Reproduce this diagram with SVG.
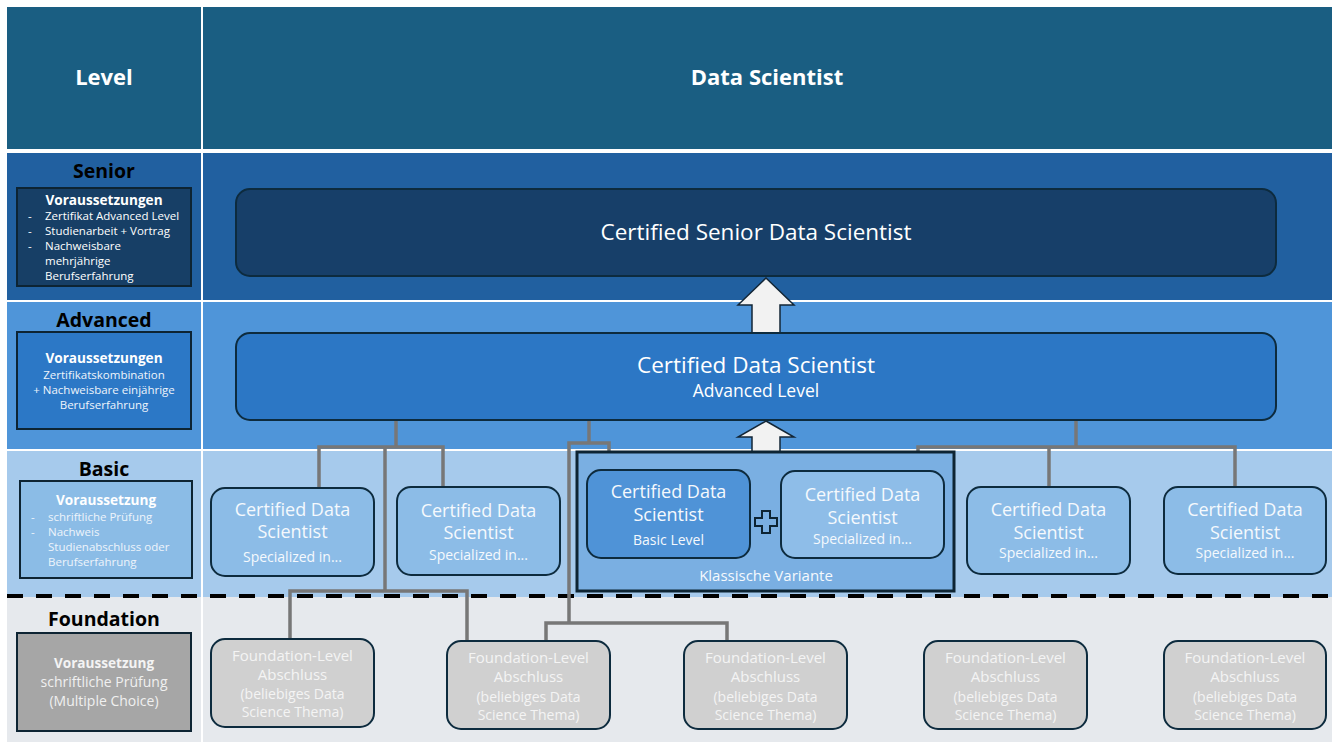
<svg xmlns="http://www.w3.org/2000/svg" width="1338" height="742" viewBox="0 0 1338 742">
<style>
text{font-family:"Open Sans","Liberation Sans",sans-serif;}
.hdr{font-size:22px;font-weight:bold;fill:#ffffff;text-anchor:middle;}
.lvl{font-size:19.5px;font-weight:bold;fill:#000000;text-anchor:middle;}
.lbox{stroke:#0d2433;stroke-width:2;}
.vb{font-size:13.6px;font-weight:bold;text-anchor:middle;}
.sm{font-size:11.5px;}
.smc{font-size:11.5px;text-anchor:middle;}
.node{stroke:#0d2b3e;stroke-width:2;}
.t1{font-size:18px;fill:#f5f9fd;text-anchor:middle;}
.t2{font-size:14px;fill:#f5f9fd;text-anchor:middle;}
.f1{font-size:15px;fill:#f4f4f4;text-anchor:middle;}
.f2{font-size:14px;fill:#f4f4f4;text-anchor:middle;}
.conn{fill:none;stroke:#777777;stroke-width:3.5;}
.barrow{fill:#f2f2f2;stroke:#132636;stroke-width:1.5;}
</style>
<rect x="0" y="0" width="1338" height="742" fill="#ffffff"/>
<g id="bands">
<rect x="7" y="7" width="1325" height="142" fill="#1a5e82"/>
<rect x="7" y="153" width="1325" height="147" fill="#2160a0"/>
<rect x="7" y="302" width="1325" height="147" fill="#4f95d9"/>
<rect x="7" y="451" width="1325" height="146" fill="#a6caec"/>
<rect x="7" y="597" width="1325" height="145" fill="#e6e9ed"/>
<rect x="201" y="7" width="2" height="735" fill="#ffffff"/>
<line x1="7" y1="596" x2="1332" y2="596" stroke="#000000" stroke-width="4" stroke-dasharray="16,13"/>
</g>
<g id="header">
<text class="hdr" x="104" y="85">Level</text>
<text class="hdr" x="767" y="85">Data Scientist</text>
</g>
<g id="level-senior">
<text class="lvl" x="104" y="178">Senior</text>
<rect class="lbox" x="17" y="188" width="174" height="98" fill="#173f66"/>
<text class="vb" x="104" y="205" fill="#ffffff">Voraussetzungen</text>
<g fill="#ffffff" class="sm">
<text x="28" y="220">-</text><text x="45" y="220">Zertifikat Advanced Level</text>
<text x="28" y="235">-</text><text x="45" y="235">Studienarbeit + Vortrag</text>
<text x="28" y="250">-</text><text x="45" y="250">Nachweisbare</text>
<text x="45" y="265">mehrjährige</text>
<text x="45" y="280">Berufserfahrung</text>
</g>
</g>
<g id="level-advanced">
<text class="lvl" x="104" y="327">Advanced</text>
<rect class="lbox" x="17" y="332" width="174" height="97" fill="#2c78c6"/>
<text class="vb" x="104" y="363" fill="#ffffff">Voraussetzungen</text>
<text class="smc" x="104" y="379" fill="#eef4fb">Zertifikatskombination</text>
<text class="smc" x="104" y="394" fill="#eef4fb">+ Nachweisbare einjährige</text>
<text class="smc" x="104" y="409" fill="#eef4fb">Berufserfahrung</text>
</g>
<g id="level-basic">
<text class="lvl" x="104" y="476">Basic</text>
<rect class="lbox" x="20" y="481" width="172" height="97" fill="#8bbce6"/>
<text class="vb" x="106" y="505" fill="#ffffff">Voraussetzung</text>
<g fill="#eef4fb" class="sm">
<text x="31" y="521">-</text><text x="48" y="521">schriftliche Prüfung</text>
<text x="31" y="536">-</text><text x="48" y="536">Nachweis</text>
<text x="48" y="551">Studienabschluss oder</text>
<text x="48" y="566">Berufserfahrung</text>
</g>
</g>
<g id="level-foundation">
<text class="lvl" x="104" y="626">Foundation</text>
<rect class="lbox" x="17" y="633" width="174" height="98" fill="#a6a6a6"/>
<text class="vb" x="104" y="668" fill="#f4f4f4">Voraussetzung</text>
<text x="104" y="687" fill="#f0f0f0" font-size="14" text-anchor="middle">schriftliche Prüfung</text>
<text x="104" y="706" fill="#f0f0f0" font-size="14" text-anchor="middle">(Multiple Choice)</text>
</g>
<g id="connectors">
<polyline class="conn" points="396,421 396,447"/>
<polyline class="conn" points="319,487 319,447 443,447 443,487"/>
<polyline class="conn" points="385,447 385,591"/>
<polyline class="conn" points="290,639 290,591 467,591 467,641"/>
<polyline class="conn" points="589,421 589,443"/>
<polyline class="conn" points="569,624 569,443 609,443 609,471"/>
<polyline class="conn" points="546,641 546,623 727,623 727,641"/>
<polyline class="conn" points="1076,421 1076,447"/>
<polyline class="conn" points="918,471 918,447 1235,447 1235,487"/>
<polyline class="conn" points="1049,447 1049,487"/>
</g>
<g id="arrows">
<polygon class="barrow" points="766,278 794,305 780,305 780,333 752,333 752,305 738,305"/>
<polygon class="barrow" points="766,421 794,437 780,437 780,453 752,453 752,437 738,437"/>
</g>
<g id="senior-node">
<rect class="node" x="236" y="189" width="1040" height="87" rx="14" fill="#173f69"/>
<text x="756" y="240" font-size="22.5" fill="#ffffff" text-anchor="middle">Certified Senior Data Scientist</text>
</g>
<g id="advanced-node">
<rect class="node" x="236" y="333" width="1040" height="87" rx="14" fill="#2c77c5"/>
<text x="756" y="373" font-size="22.5" fill="#ffffff" text-anchor="middle">Certified Data Scientist</text>
<text x="756" y="397" font-size="17.5" fill="#ffffff" text-anchor="middle">Advanced Level</text>
</g>
<g id="klassische-variante">
<rect x="577" y="452" width="377" height="139" fill="#7aafe2" stroke="#0d2433" stroke-width="3"/>
<text x="766" y="581" font-size="15" fill="#f5f9fd" text-anchor="middle">Klassische Variante</text>
<path d="M762,511 h8 v7 h7 v8 h-7 v7 h-8 v-7 h-7 v-8 h7 z" fill="#7aafe2" stroke="#0d2433" stroke-width="2"/>
</g>
<g id="basic-level-node">
<rect class="node" x="587" y="470" width="163" height="88" rx="14" fill="#4f93d7"/>
<text class="t1" x="668.5" y="498">Certified Data</text>
<text class="t1" x="668.5" y="521">Scientist</text>
<text class="t2" x="668.5" y="545">Basic Level</text>
</g>
<g id="specialized-k">
<rect class="node" x="781" y="471" width="163" height="87" rx="14" fill="#8ebde8"/>
<text class="t1" x="862.5" y="501">Certified Data</text>
<text class="t1" x="862.5" y="524">Scientist</text>
<text class="t2" x="862.5" y="544">Specialized in...</text>
</g>
<g id="specialized-1">
<rect class="node" x="211" y="488" width="163" height="88" rx="14" fill="#8cbce7"/>
<text class="t1" x="292.5" y="516">Certified Data</text>
<text class="t1" x="292.5" y="538">Scientist</text>
<text class="t2" x="292.5" y="562">Specialized in...</text>
</g>
<g id="specialized-2">
<rect class="node" x="397" y="487" width="163" height="88" rx="14" fill="#8cbce7"/>
<text class="t1" x="478.5" y="517">Certified Data</text>
<text class="t1" x="478.5" y="539">Scientist</text>
<text class="t2" x="478.5" y="560">Specialized in...</text>
</g>
<g id="specialized-3">
<rect class="node" x="967" y="487" width="163" height="87" rx="14" fill="#8cbce7"/>
<text class="t1" x="1048.5" y="516">Certified Data</text>
<text class="t1" x="1048.5" y="539">Scientist</text>
<text class="t2" x="1048.5" y="558">Specialized in...</text>
</g>
<g id="specialized-4">
<rect class="node" x="1164" y="487" width="162" height="87" rx="14" fill="#8cbce7"/>
<text class="t1" x="1245" y="516">Certified Data</text>
<text class="t1" x="1245" y="539">Scientist</text>
<text class="t2" x="1245" y="558">Specialized in...</text>
</g>
<g id="foundation-1">
<rect class="node" x="211" y="639" width="163" height="88" rx="14" fill="#d0d0d0"/>
<text class="f1" x="292.5" y="661">Foundation-Level</text>
<text class="f1" x="292.5" y="680">Abschluss</text>
<text class="f2" x="292.5" y="699">(beliebiges Data</text>
<text class="f2" x="292.5" y="717">Science Thema)</text>
</g>
<g id="foundation-2">
<rect class="node" x="447" y="641" width="163" height="88" rx="14" fill="#d0d0d0"/>
<text class="f1" x="528.5" y="663">Foundation-Level</text>
<text class="f1" x="528.5" y="682">Abschluss</text>
<text class="f2" x="528.5" y="702">(beliebiges Data</text>
<text class="f2" x="528.5" y="720">Science Thema)</text>
</g>
<g id="foundation-3">
<rect class="node" x="684" y="641" width="163" height="88" rx="14" fill="#d0d0d0"/>
<text class="f1" x="765.5" y="663">Foundation-Level</text>
<text class="f1" x="765.5" y="682">Abschluss</text>
<text class="f2" x="765.5" y="702">(beliebiges Data</text>
<text class="f2" x="765.5" y="720">Science Thema)</text>
</g>
<g id="foundation-4">
<rect class="node" x="924" y="641" width="163" height="88" rx="14" fill="#d0d0d0"/>
<text class="f1" x="1005.5" y="663">Foundation-Level</text>
<text class="f1" x="1005.5" y="682">Abschluss</text>
<text class="f2" x="1005.5" y="702">(beliebiges Data</text>
<text class="f2" x="1005.5" y="720">Science Thema)</text>
</g>
<g id="foundation-5">
<rect class="node" x="1164" y="641" width="162" height="88" rx="14" fill="#d0d0d0"/>
<text class="f1" x="1245" y="663">Foundation-Level</text>
<text class="f1" x="1245" y="682">Abschluss</text>
<text class="f2" x="1245" y="702">(beliebiges Data</text>
<text class="f2" x="1245" y="720">Science Thema)</text>
</g>
</svg>
